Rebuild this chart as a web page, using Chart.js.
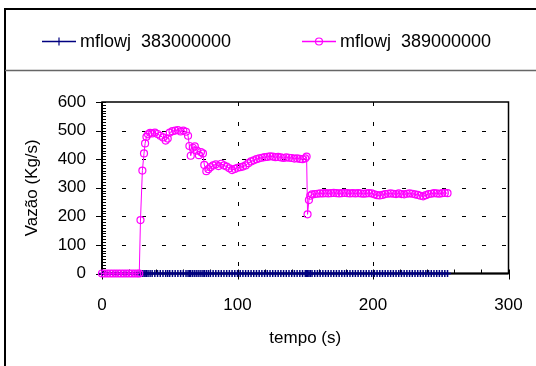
<!DOCTYPE html>
<html>
<head>
<meta charset="utf-8">
<script src="https://cdn.jsdelivr.net/npm/chart.js@4/dist/chart.umd.min.js"></script>
<style>
  html, body { margin: 0; padding: 0; background: #fff; }
  #grafico { display: block; }
</style>
</head>
<body>
<canvas id="grafico" width="536" height="366"></canvas>
<script>
// dados (tempo em s, vazão em kg/s)
const tempo = [
  0, 2, 4, 6, 8, 10, 12, 14, 16, 18, 20, 22, 24, 26, 27.5,
  28.4, 29.8, 31, 31.8, 32.8, 34, 35.5, 37, 39, 41,
  43, 45, 47, 48.5, 50, 52, 54, 56, 58, 60,
  62, 63.5, 64.5, 65.5, 67, 68.5, 70, 71.5, 73, 74.5,
  75.5, 77, 78.5, 80,
  82, 84, 86, 88, 90, 92, 94, 96, 98, 100,
  102, 104, 106, 108, 110, 112, 114, 116, 118, 120,
  122, 124, 126, 128, 130, 132, 134, 136, 138, 140,
  142, 144, 146, 148, 150,
  151, 151.7, 152.7, 153.7, 155,
  157, 159, 161, 163, 165, 167, 169, 171, 173, 175,
  177, 179, 181, 183, 185, 187, 189, 191, 193, 195,
  197, 199, 201, 203, 205, 207, 209, 211, 213, 215,
  217, 219, 221, 223, 225, 227, 229, 231, 233, 235,
  237, 239, 241, 243, 245, 247, 249, 251, 253, 255
];

const vazao383 = [
  0, 0, 0, 0, 0, 0, 0, 0, 0, 0, 0, 0, 0, 0, 0,
  0, 0, 0, 0, 0, 0, 0, 0, 0, 0,
  0, 0, 0, 0, 0, 0, 0, 0, 0, 0,
  0, 0, 0, 0, 0, 0, 0, 0, 0, 0,
  0, 0, 0, 0,
  0, 0, 0, 0, 0, 0, 0, 0, 0, 0,
  0, 0, 0, 0, 0, 0, 0, 0, 0, 0,
  0, 0, 0, 0, 0, 0, 0, 0, 0, 0,
  0, 0, 0, 0, 0,
  0, 0, 0, 0, 0,
  0, 0, 0, 0, 0, 0, 0, 0, 0, 0,
  0, 0, 0, 0, 0, 0, 0, 0, 0, 0,
  0, 0, 0, 0, 0, 0, 0, 0, 0, 0,
  0, 0, 0, 0, 0, 0, 0, 0, 0, 0,
  0, 0, 0, 0, 0, 0, 0, 0, 0, 0
];

const vazao389 = [
  0, 0, 0, 0, 0, 0, 0, 0, 0, 0, 0, 0, 0, 0, 0,
  187, 360, 420, 455, 478, 487, 492, 490, 493, 488,
  482, 476, 465, 472, 493, 498, 500, 502, 497, 500,
  496, 482, 446, 412, 440, 445, 430, 414, 425, 420,
  380, 358, 365, 372,
  378, 382, 376, 384, 378, 374, 368, 362, 366, 370,
  372, 374, 378, 386, 392, 396, 400, 403, 405, 407,
  408, 410, 409, 407, 408, 406, 404, 406, 405, 404,
  402, 403, 401, 400, 403,
  409, 207, 257, 272, 277,
  278, 279, 280, 280, 281, 280, 281, 282, 281, 280,
  281, 282, 281, 280, 281, 280, 281, 280, 279, 280,
  281, 280, 277, 274, 273, 275, 278, 279, 280, 279,
  278, 280, 278, 277, 279, 280, 279, 277, 275, 272,
  270, 274, 278, 279, 281, 280, 279, 281, 282, 281
];

const nomesSeries = ["mflowj  383000000", "mflowj  389000000"];
const ticksX = [0, 100, 200, 300];
const ticksY = [0, 100, 200, 300, 400, 500, 600];

const AZUL = "#000080";
const MAGENTA = "#FF00FF";
const FONTE = "'Liberation Sans', Arial, sans-serif";

// moldura, grade, marcas de escala e legenda
const molduraPlugin = {
  id: "moldura",
  beforeDraw(chart) {
    const ctx = chart.ctx;
    ctx.save();
    ctx.fillStyle = "#fff";
    ctx.fillRect(0, 0, chart.width, chart.height);
    ctx.strokeStyle = "#000";
    ctx.lineWidth = 2;
    ctx.strokeRect(5, 9, chart.width + 10, chart.height + 10);
    ctx.strokeStyle = "#666";
    ctx.lineWidth = 1.5;
    ctx.beginPath();
    ctx.moveTo(5, 70.5);
    ctx.lineTo(chart.width, 70.5);
    ctx.stroke();
    ctx.restore();
  },
  beforeDatasetsDraw(chart) {
    const ctx = chart.ctx;
    const a = chart.chartArea;
    const sx = chart.scales.x, sy = chart.scales.y;
    ctx.save();
    // grade tracejada
    ctx.strokeStyle = "#000";
    ctx.lineWidth = 1;
    ctx.setLineDash([4, 16]);
    ticksY.slice(1, -1).forEach(v => {
      const py = Math.round(sy.getPixelForValue(v)) + 0.5;
      ctx.beginPath();
      ctx.moveTo(a.left, py);
      ctx.lineTo(a.right, py);
      ctx.stroke();
    });
    ticksX.slice(1, -1).forEach(v => {
      const px = Math.round(sx.getPixelForValue(v)) + 0.5;
      ctx.beginPath();
      ctx.moveTo(px, a.top);
      ctx.lineTo(px, a.bottom);
      ctx.stroke();
    });
    ctx.setLineDash([]);
    // borda da área de plotagem
    ctx.lineWidth = 1.5;
    ctx.strokeRect(a.left, a.top, a.right - a.left, a.bottom - a.top);
    // marcas menores e maiores
    ctx.lineWidth = 1;
    ctx.beginPath();
    for (let v = 0; v <= 600; v += 10) {
      const py = Math.round(sy.getPixelForValue(v)) + 0.5;
      const maior = v % 100 === 0;
      ctx.moveTo(a.left - (maior ? 6 : 0), py);
      ctx.lineTo(a.left + 4, py);
    }
    for (let v = 0; v <= 300; v += 20) {
      const px = Math.round(sx.getPixelForValue(v)) + 0.5;
      const maior = v % 100 === 0;
      ctx.moveTo(px, a.bottom - 4);
      ctx.lineTo(px, a.bottom + (maior ? 6 : 0));
    }
    ctx.stroke();
    ctx.lineWidth = 2;
    ctx.beginPath();
    ctx.moveTo(a.left, a.top);
    ctx.lineTo(a.left, a.bottom);
    ctx.lineTo(a.right, a.bottom);
    ctx.stroke();
    ctx.restore();
  },
  afterDraw(chart) {
    const ctx = chart.ctx;
    const itens = [
      { x: 42, ds: chart.data.datasets[1] },
      { x: 302, ds: chart.data.datasets[0] }
    ];
    ctx.save();
    itens.forEach(it => {
      const y = 41.5;
      ctx.strokeStyle = it.ds.borderColor;
      ctx.lineWidth = 1.5;
      ctx.beginPath();
      ctx.moveTo(it.x, y);
      ctx.lineTo(it.x + 34, y);
      ctx.stroke();
      const cx = it.x + 17;
      ctx.lineWidth = 1.2;
      ctx.beginPath();
      if (it.ds.pointStyle === "cross") {
        ctx.moveTo(cx, y - 4);
        ctx.lineTo(cx, y + 4);
      } else {
        ctx.arc(cx, y, 3.5, 0, Math.PI * 2);
      }
      ctx.stroke();
      ctx.fillStyle = "#000";
      ctx.font = "18px " + FONTE;
      ctx.textBaseline = "middle";
      ctx.textAlign = "left";
      ctx.fillText(it.ds.label, it.x + 38, y + 1);
    });
    ctx.restore();
  }
};

const pontos = serie => tempo.map((t, i) => ({ x: t, y: serie[i] }));

new Chart("grafico", {
  type: "scatter",
  data: {
    datasets: [
      {
        label: nomesSeries[1],
        data: pontos(vazao389),
        borderColor: MAGENTA,
        backgroundColor: "rgba(0,0,0,0)",
        showLine: true,
        borderWidth: 1,
        pointStyle: "circle",
        pointRadius: 3.5,
        pointBorderWidth: 1.2,
        clip: false
      },
      {
        label: nomesSeries[0],
        data: pontos(vazao383),
        borderColor: AZUL,
        backgroundColor: AZUL,
        showLine: true,
        borderWidth: 1.5,
        pointStyle: "cross",
        pointRadius: 3.5,
        pointBorderWidth: 1.5,
        clip: false
      }
    ]
  },
  options: {
    responsive: false,
    devicePixelRatio: 1,
    animation: false,
    layout: { padding: { left: 0, top: 102, right: 27.5, bottom: 0 } },
    plugins: {
      legend: { display: false },
      tooltip: { enabled: false }
    },
    scales: {
      x: {
        type: "linear",
        min: 0,
        max: 300,
        afterBuildTicks: s => { s.ticks = ticksX.map(v => ({ value: v })); },
        afterFit: s => { s.height = 92.5; s.paddingLeft = 0; s.paddingRight = 0; },
        grid: { display: false, drawTicks: false },
        border: { display: false },
        ticks: { color: "#000", font: { family: FONTE, size: 17 }, padding: 22, maxRotation: 0 },
        title: {
          display: true,
          text: "tempo (s)",
          color: "#000",
          font: { family: FONTE, size: 17 },
          padding: { top: 0, bottom: 17 }
        }
      },
      y: {
        min: 0,
        max: 600,
        afterBuildTicks: s => { s.ticks = ticksY.map(v => ({ value: v })); },
        afterFit: s => { s.width = 102; s.paddingTop = 0; s.paddingBottom = 0; },
        grid: { display: false, drawTicks: false },
        border: { display: false },
        ticks: { color: "#000", font: { family: FONTE, size: 17 }, padding: 16 },
        title: {
          display: true,
          text: "Vazão (Kg/s)",
          color: "#000",
          font: { family: FONTE, size: 17 },
          padding: { top: 22, bottom: 0 }
        }
      }
    }
  },
  plugins: [molduraPlugin]
});
</script>
</body>
</html>
